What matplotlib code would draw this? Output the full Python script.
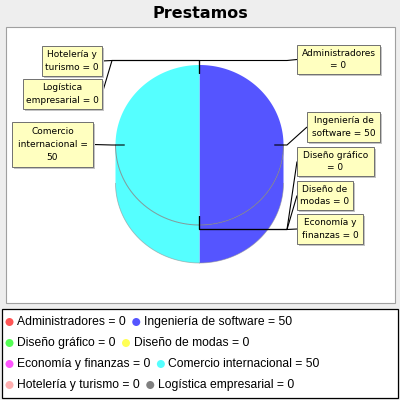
import numpy as np
import matplotlib
matplotlib.use('Agg')
import matplotlib.pyplot as plt
from matplotlib.patches import Polygon, Rectangle, Circle

titulo = 'Prestamos'
carreras = ['Administradores', 'Ingeniería de software', 'Diseño gráfico', 'Diseño de modas',
            'Economía y finanzas', 'Comercio internacional', 'Hotelería y turismo',
            'Logística empresarial']
prestamos = [0, 50, 0, 0, 0, 50, 0, 0]
colores = ['#FF5555', '#5555FF', '#55FF55', '#FFFF55', '#FF55FF', '#55FFFF', '#FFAFAF', '#808080']
# texto de las etiquetas partido en lineas como en la imagen
etiquetas = ['Administradores\n= {}', 'Ingeniería de\nsoftware = {}', 'Diseño gráfico\n= {}',
             'Diseño de\nmodas = {}', 'Economía y\nfinanzas = {}', 'Comercio\ninternacional =\n{}',
             'Hotelería y\nturismo = {}', 'Logística\nempresarial = {}']
# cajas de etiqueta (x, y, ancho, alto) en pixeles
cajas = [(297, 45, 83, 29), (307, 112, 73, 30), (297, 147, 77, 29), (297, 181, 56, 29),
         (297, 214, 66, 30), (12, 122, 81, 45), (42, 46, 60, 30), (23, 79, 79, 30)]

fig = plt.figure(figsize=(4, 4), dpi=100, facecolor='#EEEEEE')
ax = fig.add_axes([0, 0, 1, 1])
ax.set_xlim(0, 400)
ax.set_ylim(400, 0)
ax.axis('off')

ax.text(200, 13, titulo, ha='center', va='center', fontsize=11.5, fontweight='bold',
        family='DejaVu Sans')

# area del grafico
ax.add_patch(Rectangle((5.5, 26.5), 389, 276, facecolor='white', edgecolor='#A0A0A0', lw=0.8, zorder=0))

# geometria del pastel 3d
cx, cy = 199.5, 145
rx, ry = 84, 80
prof = 38
link_w, link_h = 87.5, 84.5
link_pct = 0.89


def punto(a, r1=rx, r2=ry, dy=0):
    return cx + np.cos(a) * r1, cy - np.sin(a) * r2 + dy


total = float(sum(prestamos))
acum = 0.0
angulos = []
for v in prestamos:
    a0 = 90 - 360 * acum / total
    acum += v
    a1 = 90 - 360 * acum / total
    angulos.append((a0, a1))

# lados (solo la mitad de abajo se ve)
for (a0, a1), col in zip(angulos, colores):
    if a0 == a1:
        continue
    aa = np.deg2rad(np.linspace(a0, a1, 300))
    vis = np.sin(aa) <= 1e-9
    idx = np.where(vis)[0]
    if len(idx) == 0:
        continue
    grupos = np.split(idx, np.where(np.diff(idx) > 1)[0] + 1)
    for g in grupos:
        seg = aa[g]
        xs, ys = punto(seg)
        pts = list(zip(xs, ys)) + list(zip(xs[::-1], ys[::-1] + prof))
        ax.add_patch(Polygon(pts, closed=True, facecolor=col, edgecolor='none', zorder=1))
        ax.plot(xs, ys + prof, color='#909090', lw=0.6, alpha=0.6, zorder=2)

# cara de arriba
for (a0, a1), col in zip(angulos, colores):
    if a0 == a1:
        continue
    aa = np.deg2rad(np.linspace(a0, a1, 300))
    xs, ys = punto(aa)
    pts = [(cx, cy)] + list(zip(xs, ys))
    ax.add_patch(Polygon(pts, closed=True, facecolor=col, edgecolor='none', zorder=2))

# borde entre la cara y el lado
aa = np.deg2rad(np.linspace(180, 360, 200))
xs, ys = punto(aa)
ax.plot(xs, ys, color='#808080', lw=0.7, alpha=0.8, zorder=3)

# etiquetas con sus lineas
for i, ((a0, a1), nom) in enumerate(zip(angulos, carreras)):
    th = np.deg2rad((a0 + a1) / 2)
    bx, by, bw, bh = cajas[i]
    izq = bx + bw / 2 < cx
    lx, ly = punto(th, rx * link_pct, ry * link_pct)
    ex, ey = punto(th, link_w, link_h)
    axx = cx - link_w if izq else cx + link_w
    tx = bx + bw if izq else bx
    ty = by + bh / 2
    ax.plot([lx, ex, axx, tx], [ly, ey, ey, ty], color='black', lw=0.8, zorder=4,
            solid_capstyle='butt')
    ax.add_patch(Rectangle((bx + 1.5, by + 1.5), bw, bh, facecolor='#C4C4C4', edgecolor='none', zorder=5))
    ax.add_patch(Rectangle((bx, by), bw, bh, facecolor='#FFFFC0', edgecolor='#707070', lw=0.7, zorder=6))
    ax.text(bx + bw / 2, ty, etiquetas[i].format(prestamos[i]), ha='center', va='center',
            fontsize=6.5, family='DejaVu Sans', linespacing=1.55, zorder=7)

# leyenda
ax.add_patch(Rectangle((1.5, 309), 396.5, 89, facecolor='white', edgecolor='black', lw=0.9, zorder=0))
fig.canvas.draw()
rend = fig.canvas.get_renderer()
filas_y = [322, 343, 364, 385]
for f, yy in enumerate(filas_y):
    x = 9.5
    for k in range(2):
        i = f * 2 + k
        ax.add_patch(Circle((x, yy), 4, facecolor=colores[i], edgecolor='none', zorder=3))
        t = ax.text(x + 7.5, yy, '{} = {}'.format(carreras[i], prestamos[i]), ha='left', va='center',
                    fontsize=8.7, family='Liberation Sans', zorder=3)
        w = t.get_window_extent(rend).width
        x = x + 7.5 + w + 10.5

fig.savefig('out.png', dpi=100, facecolor=fig.get_facecolor())
